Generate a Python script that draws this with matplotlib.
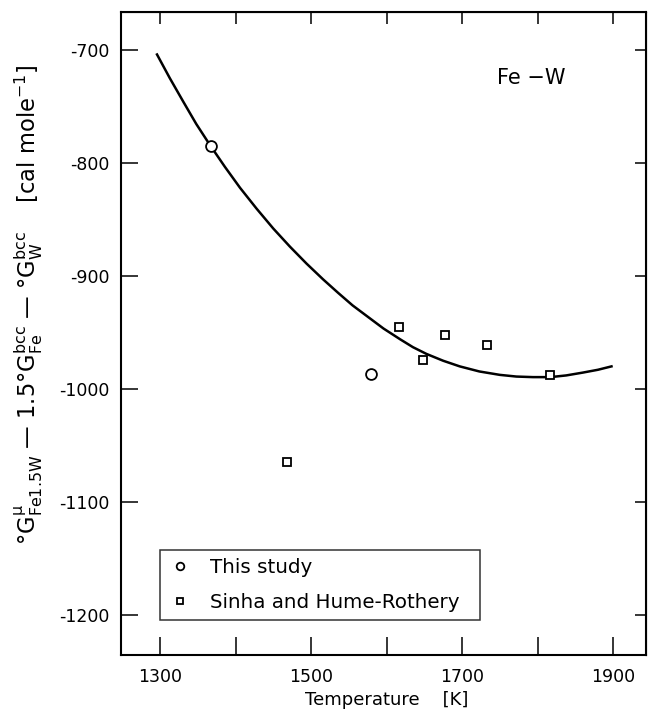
import numpy as np
import matplotlib
matplotlib.use('Agg')
import matplotlib.pyplot as plt

plt.rcParams['font.family'] = ['DejaVu Sans']
plt.rcParams['mathtext.fontset'] = 'custom'
plt.rcParams['mathtext.rm'] = 'DejaVu Sans'
plt.rcParams['mathtext.it'] = 'DejaVu Sans'
plt.rcParams['mathtext.bf'] = 'DejaVu Sans:bold'

# curve
curve_T = [1296, 1313, 1331, 1348, 1366, 1386, 1406, 1428, 1450, 1472, 1494,
           1516, 1536, 1555, 1574, 1596, 1618, 1635, 1653, 1675, 1697, 1723,
           1750, 1772, 1794, 1817, 1838, 1860, 1880, 1898]
curve_G = [-704, -725, -746, -765.5, -784, -803.5, -822, -840.5, -858, -874,
           -889, -903, -915, -926, -935.5, -946.5, -956, -963, -969, -975,
           -980, -984.5, -987.5, -989, -989.5, -989.5, -988, -985.5, -983, -980]

# this study (circles)
study_T = [1367, 1579]
study_G = [-785, -987]

# Sinha and Hume-Rothery (squares)
sinha_T = [1468, 1617, 1648, 1677, 1733, 1817]
sinha_G = [-1065, -945, -974, -952, -961, -988]

xticks = [1300, 1400, 1500, 1600, 1700, 1800, 1900]
xticklabels = ['1300', '', '1500', '', '1700', '', '1900']
yticks = [-700, -800, -900, -1000, -1100, -1200]
yticklabels = ['-700', '-800', '-900', '-1000', '-1100', '-1200']

fig = plt.figure(figsize=(6.52, 7.13), dpi=100)
ax = fig.add_axes([121 / 652, 1 - 655 / 713, 525 / 652, 643 / 713])

ax.plot(curve_T, curve_G, color='black', lw=1.8, zorder=2)
ax.plot(study_T, study_G, 'o', ms=7.8, mfc='white', mec='black', mew=1.3,
        ls='none', label='This study', zorder=3)
ax.plot(sinha_T, sinha_G, 's', ms=6.3, mfc='white', mec='black', mew=1.3,
        ls='none', label='Sinha and Hume-Rothery', zorder=3)

ax.set_xlim(1248.3, 1943.7)
ax.set_ylim(-1235.4, -666.4)

ax.set_xticks(xticks)
ax.set_xticklabels(xticklabels)
ax.set_yticks(yticks)
ax.set_yticklabels(yticklabels)
ax.tick_params(axis='x', direction='in', length=13, width=1.1, pad=9,
               labelsize=12.5, top=False)
ax.tick_params(axis='y', direction='in', length=12, width=1.1, pad=8,
               labelsize=12.5, right=False)
for s in ax.spines.values():
    s.set_linewidth(1.5)

top = ax.secondary_xaxis('top')
top.set_xticks(xticks)
top.set_xticklabels([])
top.tick_params(direction='in', length=8.5, width=1.1)
right = ax.secondary_yaxis('right')
right.set_yticks(yticks)
right.set_yticklabels([])
right.tick_params(direction='in', length=8, width=1.1)

ax.text((497 - 121) / 525, 1 - (78 - 12) / 643, 'Fe \u2212W', transform=ax.transAxes,
        fontsize=15, ha='left', va='center')

ax.set_xlabel('Temperature    [K]', fontsize=13)
ax.xaxis.set_label_coords((387 - 121) / 525, -(700 - 655) / 643)
ax.xaxis.label.set_va('center')

ylab = (u'\u00b0G$^{\\mu}_{\\mathrm{Fe1.5W}}$ \u2014 '
        u'1.5\u00b0G$^{\\mathrm{bcc}}_{\\mathrm{Fe}}$ \u2014 '
        u'\u00b0G$^{\\mathrm{bcc}}_{\\mathrm{W}}$    [cal mole$^{-1}$]')
fig.text(29 / 652, 1 - 305 / 713, ylab, rotation=90, fontsize=16.3,
         ha='center', va='center')

leg = ax.legend(loc='upper left', mode='expand',
                bbox_to_anchor=((160 - 121) / 525, 1 - (620 - 12) / 643,
                                320 / 525, 70 / 643),
                borderaxespad=0, fontsize=14.3, frameon=True, fancybox=False,
                edgecolor='black', handlelength=1.2, handletextpad=0.9,
                borderpad=0.4, labelspacing=0.8, markerscale=0.7)
leg.get_frame().set_linewidth(1.1)

fig.savefig('out.png', dpi=100)
